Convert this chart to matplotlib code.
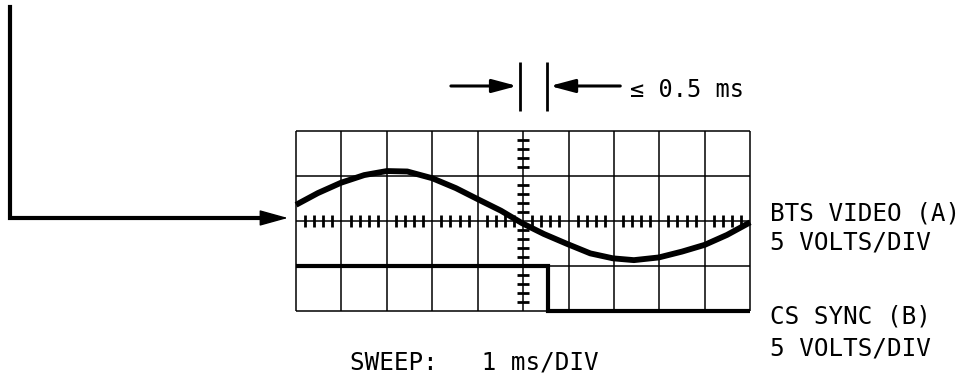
import numpy as np
import matplotlib
matplotlib.use("Agg")
import matplotlib.pyplot as plt

# scope graticule: 10 x 4 divisions, centre line at 0
n_xdiv = 10
y_lines = [-2, -1, 0, 1, 2]

# channel A (BTS video), in divisions
video_x = [0.0, 0.48, 0.99, 1.50, 2.0, 2.45, 3.0, 3.52, 4.03, 4.51, 4.98,
           5.46, 5.97, 6.48, 6.98, 7.44, 7.99, 8.50, 9.0, 9.49, 10.0]
video_y = [0.36, 0.62, 0.85, 1.02, 1.11, 1.10, 0.95, 0.73, 0.47, 0.23, -0.05,
           -0.29, -0.51, -0.72, -0.83, -0.87, -0.81, -0.68, -0.53, -0.31, -0.03]

# channel B (CS sync) square edge
sync_x = [0.0, 5.54, 5.54, 10.0]
sync_y = [-1.0, -1.0, -2.0, -2.0]

# timing markers above the screen
marker_a = 4.93
marker_b = 5.53

labels_a = ["BTS VIDEO (A)", "5 VOLTS/DIV"]
labels_b = ["CS SYNC (B)", "5 VOLTS/DIV"]
sweep_label = "SWEEP:   1 ms/DIV"
gap_label = "\u2264 0.5 ms"

plt.rcParams['font.family'] = ['DejaVu Sans Mono', 'DejaVu Sans']

fig = plt.figure(figsize=(9.69, 3.77), dpi=100)
ax = fig.add_axes([0, 0, 1, 1])
ax.set_xlim(-6.52, 14.82)
ax.set_ylim(-3.467, 4.911)
ax.axis('off')

# graticule
ax.vlines(range(n_xdiv + 1), -2, 2, color='black', lw=1.1)
ax.hlines(y_lines, 0, n_xdiv, color='black', lw=1.1)
minor_x = [x for x in np.arange(0, 10.01, 0.2) if abs(x - round(x)) > 0.05]
minor_y = [y for y in np.arange(-2, 2.01, 0.2) if abs(y - round(y)) > 0.05]
ax.plot(minor_x, [0] * len(minor_x), ls='none', marker='|', ms=8, mew=2, color='black')
ax.plot([5] * len(minor_y), minor_y, ls='none', marker='_', ms=8, mew=2, color='black')

# traces
ax.plot(video_x, video_y, color='black', lw=4.2, solid_capstyle='butt',
        solid_joinstyle='round')
ax.plot(sync_x, sync_y, color='black', lw=3, solid_joinstyle='miter', solid_capstyle='butt')

# input arrow from the left
ax.plot([-6.3, -6.3, -0.6], [4.76, 0.067, 0.067], color='black', lw=3,
        solid_joinstyle='miter')
ax.annotate('', xy=(-0.18, 0.067), xytext=(-0.8, 0.067),
            arrowprops=dict(arrowstyle='-|>,head_length=1.8,head_width=0.5',
                            mutation_scale=10, lw=1, color='black',
                            shrinkA=0, shrinkB=0))

# timing gap markers
ax.vlines([marker_a, marker_b], 2.44, 3.53, color='black', lw=2)
ax.annotate('', xy=(marker_a - 0.06, 3.0), xytext=(3.41, 3.0),
            arrowprops=dict(arrowstyle='-|>,head_length=1.5,head_width=0.4',
                            mutation_scale=10, lw=2.2, color='black',
                            shrinkA=0, shrinkB=0))
ax.annotate('', xy=(marker_b + 0.06, 3.0), xytext=(7.14, 3.0),
            arrowprops=dict(arrowstyle='-|>,head_length=1.5,head_width=0.4',
                            mutation_scale=10, lw=2.2, color='black',
                            shrinkA=0, shrinkB=0))
ax.text(7.36, 2.76, gap_label, fontsize=17, va='baseline', ha='left')

# channel labels
ax.text(10.44, 0.0, labels_a[0], fontsize=17.5, va='baseline', ha='left')
ax.text(10.44, -0.64, labels_a[1], fontsize=17.5, va='baseline', ha='left')
ax.text(10.44, -2.27, labels_b[0], fontsize=17.5, va='baseline', ha='left')
ax.text(10.44, -2.98, labels_b[1], fontsize=17.5, va='baseline', ha='left')
ax.text(1.19, -3.29, sweep_label, fontsize=17.5, va='baseline', ha='left')

fig.savefig('out.png', dpi=100)
